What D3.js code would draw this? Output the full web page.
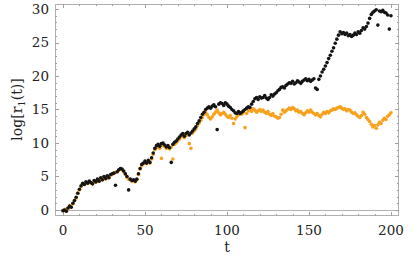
<!DOCTYPE html>
<html>
<head>
<meta charset="utf-8">
<script src="https://cdn.jsdelivr.net/npm/d3@7"></script>
<style>
  html, body { margin: 0; padding: 0; background: #fff; }
  svg text { font-family: "DejaVu Serif", "Liberation Serif", serif; fill: #222; }
</style>
</head>
<body>
<svg id="plot" width="415" height="258"></svg>
<script>
// t runs 0..200 in steps of 1, one value per t
const tStart = 0
const tStep = 1

const blackLog = [
  -0.1, 0, -0.2, 0.3, 0.6, 0.4, 1.0, 1.4, 1.9, 2.5,
  3.1, 3.6, 4.0, 3.8, 4.2, 4.0, 4.3, 4.1, 3.9, 4.4,
  4.2, 4.6, 4.3, 4.8, 4.5, 5.0, 4.7, 5.1, 4.8, 5.3,
  5.4, 5.5, 3.7, 5.7, 6.0, 6.2, 6.1, 5.8, 5.4, 5.0,
  3.0, 4.6, 4.4, 4.5, 4.3, 4.6, 5.4, 6.2, 6.8, 7.0,
  7.3, 7.0, 7.4, 7.1, 7.8, 8.5, 9.2, 9.6, 9.8, 9.5,
  9.9, 10.0, 9.7, 9.4, 9.6, 9.3, 7.1, 9.8, 10.1, 10.3,
  10.6, 10.9, 11.2, 11.4, 11.0, 11.4, 11.6, 11.2, 11.5, 11.8,
  12.1, 12.4, 12.9, 13.3, 13.8, 14.3, 14.6, 15.0, 15.2, 15.4,
  15.2, 15.5, 15.7, 15.4, 12.0, 15.8, 16.0, 15.9, 15.6, 16.0,
  15.8, 15.5, 15.3, 15.0, 14.8, 14.5, 14.4, 14.7, 14.4, 14.6,
  14.8, 15.0, 15.2, 15.4, 15.3, 15.8, 16.2, 16.6, 16.8, 16.5,
  16.9, 16.7, 16.8, 17.1, 16.7, 16.5, 16.8, 17.2, 17.0, 17.3,
  17.5, 17.8, 18.0, 18.3, 18.4, 18.2, 18.6, 18.8, 19.0, 18.9,
  19.2, 18.8, 19.0, 19.3, 19.1, 18.9, 19.2, 19.4, 19.6, 19.3,
  19.5, 19.2, 19.4, 19.6, 18.2, 18.0, 19.5, 20.0, 20.6, 21.0,
  21.5, 22.0, 22.6, 23.1, 23.7, 24.2, 24.9, 25.5, 26.1, 26.6,
  26.3, 26.5, 26.2, 26.4, 26.0, 26.2, 25.9, 26.1, 26.4, 26.2,
  26.6, 26.4, 26.8, 27.2, 27.0, 27.4, 27.9, 28.6, 29.2, 29.5,
  29.7, 29.9, 27.6, 29.7, 29.6, 29.8, 29.5, 29.4, 29.1, 27.0,
  29.0
]

const orangeLog = [
  -0.1, 0.1, -0.2, 0.2, 0.6, 0.5, 0.9, 1.4, 1.8, 2.5,
  3.0, 3.5, 3.9, 3.8, 4.1, 4.0, 4.2, 4.0, 3.9, 4.3,
  4.1, 4.5, 4.3, 4.7, 4.5, 4.9, 4.6, 5.0, 4.8, 5.2,
  5.3, 5.5, 5.6, 5.7, 5.9, 6.1, 6.0, 5.7, 5.3, 4.9,
  4.6, 4.5, 4.3, 4.4, 4.2, 4.5, 5.3, 6.1, 6.6, 6.9,
  7.1, 6.9, 7.2, 7.0, 7.6, 8.3, 9.0, 9.3, 9.5, 9.2,
  7.7, 9.6, 9.5, 9.2, 9.3, 9.1, 9.4, 7.6, 9.8, 10.0,
  10.3, 10.6, 10.9, 11.1, 10.8, 11.1, 11.3, 9.9, 9.2, 11.5,
  11.8, 12.1, 12.6, 13.0, 13.4, 13.8, 14.3, 14.6, 14.2, 13.8,
  13.6, 13.9, 14.3, 14.6, 14.9, 14.5, 14.2, 14.4, 14.6, 14.3,
  14.0, 13.8, 14.1, 13.7, 12.9, 13.6, 13.9, 14.2, 14.5, 14.3,
  14.6, 12.3, 14.4, 14.8, 15.0, 14.7, 15.1, 14.9, 14.6, 14.8,
  15.0, 14.7, 14.9, 14.6, 14.4, 14.7, 14.3, 14.1, 14.4, 14.0,
  13.9, 13.7, 13.8, 14.3, 14.9, 14.6, 14.8, 15.0, 15.2, 15.0,
  15.3, 15.1, 14.8, 14.9, 14.6, 14.7, 14.4, 14.2, 14.5, 14.8,
  14.6, 14.9, 14.6, 14.4, 14.2, 14.4, 14.1, 13.9, 14.3, 14.6,
  14.4, 14.7, 14.5, 14.8, 14.9, 15.1, 15.0, 15.2, 15.3, 15.4,
  15.2, 15.0, 15.1, 14.8, 15.0, 14.9, 14.6, 14.4, 14.5, 14.2,
  14.0, 13.8, 14.1, 14.6, 14.3, 13.8, 13.5, 13.2, 12.8, 12.4,
  12.6, 12.2, 12.7, 13.1, 12.9, 13.4, 13.7, 13.5, 14.0, 14.2,
  14.5
]

const xTicks = [0, 50, 100, 150, 200]
const yTicks = [0, 5, 10, 15, 20, 25, 30]

const plot = d3.select('#plot')

// frame edges in data units (Mathematica pads the range a bit)
let xScale = d3.scaleLinear()
            .domain([-4.9, 204.9])
            .range([55, 399])

let yScale = d3.scaleLinear()
            .domain([-0.9, 30.75])
            .range([216, 4])

const frameColor = '#b0b0b0'

/* frame */
plot.append('rect')
    .attr('x', 55.5)
    .attr('y', 4.5)
    .attr('width', 343)
    .attr('height', 211)
    .attr('fill', 'none')
    .attr('stroke', frameColor)
    .attr('stroke-width', 1)

// axis at log = 0
plot.append('line')
    .attr('x1', 55).attr('x2', 399)
    .attr('y1', Math.round(yScale(0)) + 0.5)
    .attr('y2', Math.round(yScale(0)) + 0.5)
    .attr('stroke', frameColor)

/* frame ticks, all four sides */
const xMinor = d3.range(0, 201, 10)
const yMinor = d3.range(0, 31, 1)

function tickLen(v, major) { return major.includes(v) ? 4 : 2 }

const tickG = plot.append('g').attr('stroke', '#a0a0a0').attr('stroke-width', 1)

xMinor.forEach(v => {
  const px = Math.round(xScale(v)) + 0.5
  const len = tickLen(v, xTicks)
  tickG.append('line').attr('x1', px).attr('x2', px).attr('y1', 216).attr('y2', 216 - len)
  tickG.append('line').attr('x1', px).attr('x2', px).attr('y1', 4).attr('y2', 4 + len)
})

yMinor.forEach(v => {
  const py = Math.round(yScale(v)) + 0.5
  const len = tickLen(v, yTicks)
  tickG.append('line').attr('x1', 55).attr('x2', 55 + len).attr('y1', py).attr('y2', py)
  tickG.append('line').attr('x1', 399).attr('x2', 399 - len).attr('y1', py).attr('y2', py)
})

/* tick labels */
plot.append('g')
  .selectAll('text')
  .data(xTicks)
  .join('text')
    .attr('x', d => xScale(d))
    .attr('y', 235)
    .attr('text-anchor', 'middle')
    .style('font-size', '13.5px')
    .text(d => d)

plot.append('g')
  .selectAll('text')
  .data(yTicks)
  .join('text')
    .attr('x', 49)
    .attr('y', d => yScale(d))
    .attr('dy', '0.36em')
    .attr('text-anchor', 'end')
    .style('font-size', '13.5px')
    .text(d => d)

/* axis titles */
plot.append('text')
    .attr('x', 227)
    .attr('y', 252)
    .attr('text-anchor', 'middle')
    .style('font-size', '14px')
    .text('t')

const yTitle = plot.append('text')
    .attr('text-anchor', 'middle')
    .attr('transform', `translate(22, ${yScale(15)}) rotate(-90)`)
    .style('font-size', '14px')

yTitle.append('tspan').text('log[r')
yTitle.append('tspan').attr('baseline-shift', '-25%').style('font-size', '10px').text('1')
yTitle.append('tspan').text('(t)]')

/* points */
function drawSeries(values, color) {
  plot.append('g')
    .selectAll('circle')
    .data(values)
    .join('circle')
      .attr('cx', (d, i) => xScale(tStart + i * tStep))
      .attr('cy', d => yScale(d))
      .attr('r', 1.8)
      .attr('fill', color)
}

drawSeries(orangeLog, '#f7a11c')
drawSeries(blackLog, '#141414')
</script>
</body>
</html>
